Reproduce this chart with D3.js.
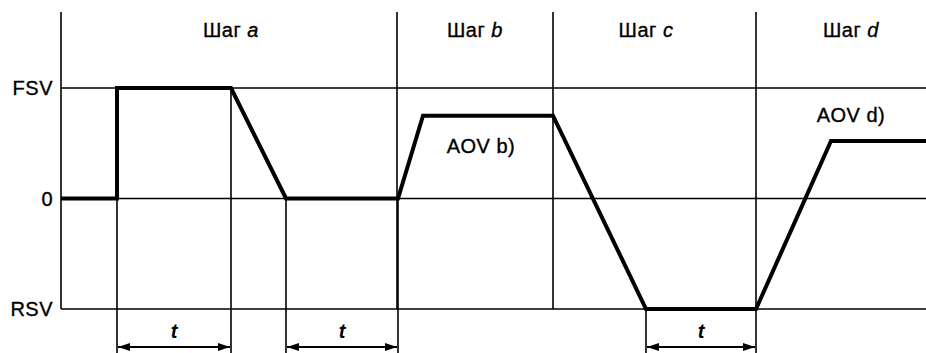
<!DOCTYPE html>
<html>
<head>
<meta charset="utf-8">
<script src="https://cdn.jsdelivr.net/npm/d3@7"></script>
<style>
  body { margin: 0; background: #fff; }
  svg { display: block; }
  text { font-family: "Liberation Sans", Arial, sans-serif; fill: #000; }
</style>
</head>
<body>
<svg id="chart"></svg>
<script>
// Signal levels (relative units: FSV = 1, RSV = -1)
const levelNames = ['FSV', '0', 'RSV'];
const levelValues = [1, 0, -1];

// Step names, their boundaries on the time axis and where the heading sits
const stepLetters = ['a', 'b', 'c', 'd'];
const stepBounds = [336, 492, 695];
const stepLabelTimes = [170, 414, 585, 790];

// Signal path: time points and values
const signalTimes = [0, 56, 56, 170, 225, 337, 362, 492, 585, 695, 770, 865];
const signalValues = [0, 0, 1, 1, 0, 0, 0.75, 0.75, -1, -1, 0.52, 0.52];

// Hold intervals marked with "t"
const holdStarts = [56, 225, 585];
const holdEnds = [170, 337, 695];
const holdFromValues = [0, 0, -1];
const holdToValues = [1, 0, -1];

// AOV labels
const aovLabels = ['AOV b)', 'AOV d)'];
const aovTimes = [420, 790];
const aovValues = [0.48, 0.76];

const width = 926;
const height = 353;
const margin = { top: 12, right: 0, bottom: 44, left: 61 };

const svg = d3.select('#chart').attr('width', width).attr('height', height);

const x = d3.scaleLinear().domain([0, 865]).range([margin.left, width - margin.right]);
const y = d3.scaleLinear().domain([-1, 1]).range([height - margin.bottom, 88]);

const thin = 1.6;
const thick = 4;
const arrowY = height - 6;
const fontSize = '20px';
const spacing = '0.5px';

// Text style shared by all labels (slight stroke to match the scanned weight)
function label(sel) {
  return sel
    .attr('font-size', fontSize)
    .attr('letter-spacing', spacing)
    .attr('stroke', '#000')
    .attr('stroke-width', 0.35);
}

// Arrow markers
const defs = svg.append('defs');
['start', 'end'].forEach(kind => {
  defs.append('marker')
    .attr('id', 'arrow-' + kind)
    .attr('viewBox', '0 0 12 10')
    .attr('refX', kind === 'end' ? 12 : 0)
    .attr('refY', 5)
    .attr('markerWidth', 12)
    .attr('markerHeight', 10)
    .attr('markerUnits', 'userSpaceOnUse')
    .attr('orient', 'auto')
    .append('path')
    .attr('d', kind === 'end' ? 'M0,1 L12,5 L0,9 Z' : 'M12,1 L0,5 L12,9 Z')
    .attr('fill', '#000');
});

// Y axis line
svg.append('line')
  .attr('x1', x(0)).attr('x2', x(0))
  .attr('y1', margin.top).attr('y2', y(-1))
  .attr('stroke', '#000').attr('stroke-width', thin);

// Horizontal level lines and labels
svg.selectAll('.level')
  .data(levelValues)
  .join('line')
  .attr('class', 'level')
  .attr('x1', x(0)).attr('x2', x(865))
  .attr('y1', d => y(d)).attr('y2', d => y(d))
  .attr('stroke', '#000').attr('stroke-width', thin);

svg.selectAll('.level-label')
  .data(levelValues)
  .join('text')
  .attr('class', 'level-label')
  .attr('x', x(0) - 8)
  .attr('y', d => y(d))
  .attr('dy', '0.36em')
  .attr('text-anchor', 'end')
  .call(label)
  .text((d, i) => levelNames[i]);

// Step boundaries
svg.selectAll('.step-line')
  .data(stepBounds)
  .join('line')
  .attr('class', 'step-line')
  .attr('x1', d => x(d)).attr('x2', d => x(d))
  .attr('y1', margin.top)
  .attr('y2', y(-1))
  .attr('stroke', '#000').attr('stroke-width', thin);

// Step headings
const heads = svg.selectAll('.step-head')
  .data(stepLetters)
  .join('text')
  .attr('class', 'step-head')
  .attr('x', (d, i) => x(stepLabelTimes[i]))
  .attr('y', 37)
  .attr('text-anchor', 'middle')
  .call(label);
heads.append('tspan').text('Шаг ');
heads.append('tspan').attr('font-style', 'italic').text(d => d);

// Extension lines for the hold intervals
const extTimes = holdStarts.concat(holdEnds);
const extFrom = holdFromValues.concat(holdToValues);
svg.selectAll('.ext')
  .data(extTimes)
  .join('line')
  .attr('class', 'ext')
  .attr('x1', d => x(d)).attr('x2', d => x(d))
  .attr('y1', (d, i) => y(extFrom[i]))
  .attr('y2', height)
  .attr('stroke', '#000').attr('stroke-width', thin);

// Dimension arrows
svg.selectAll('.dim')
  .data(holdStarts)
  .join('line')
  .attr('class', 'dim')
  .attr('x1', d => x(d) + 1).attr('x2', (d, i) => x(holdEnds[i]) - 1)
  .attr('y1', arrowY).attr('y2', arrowY)
  .attr('stroke', '#000').attr('stroke-width', 2)
  .attr('marker-start', 'url(#arrow-start)')
  .attr('marker-end', 'url(#arrow-end)');

svg.selectAll('.dim-label')
  .data(holdStarts)
  .join('text')
  .attr('class', 'dim-label')
  .attr('x', (d, i) => (x(d) + x(holdEnds[i])) / 2)
  .attr('y', arrowY - 9)
  .attr('text-anchor', 'middle')
  .attr('font-size', fontSize)
  .attr('font-style', 'italic')
  .attr('font-weight', 'bold')
  .text('t');

// Signal
const signal = signalTimes.map((t, i) => ({ t, v: signalValues[i] }));
const line = d3.line().x(d => x(d.t)).y(d => y(d.v));
svg.append('path')
  .datum(signal)
  .attr('d', line)
  .attr('fill', 'none')
  .attr('stroke', '#000')
  .attr('stroke-width', thick)
  .attr('stroke-linejoin', 'miter');

// AOV labels
svg.selectAll('.aov')
  .data(aovLabels)
  .join('text')
  .attr('class', 'aov')
  .attr('x', (d, i) => x(aovTimes[i]))
  .attr('y', (d, i) => y(aovValues[i]))
  .attr('dy', '0.36em')
  .attr('text-anchor', 'middle')
  .call(label)
  .text(d => d);
</script>
</body>
</html>
